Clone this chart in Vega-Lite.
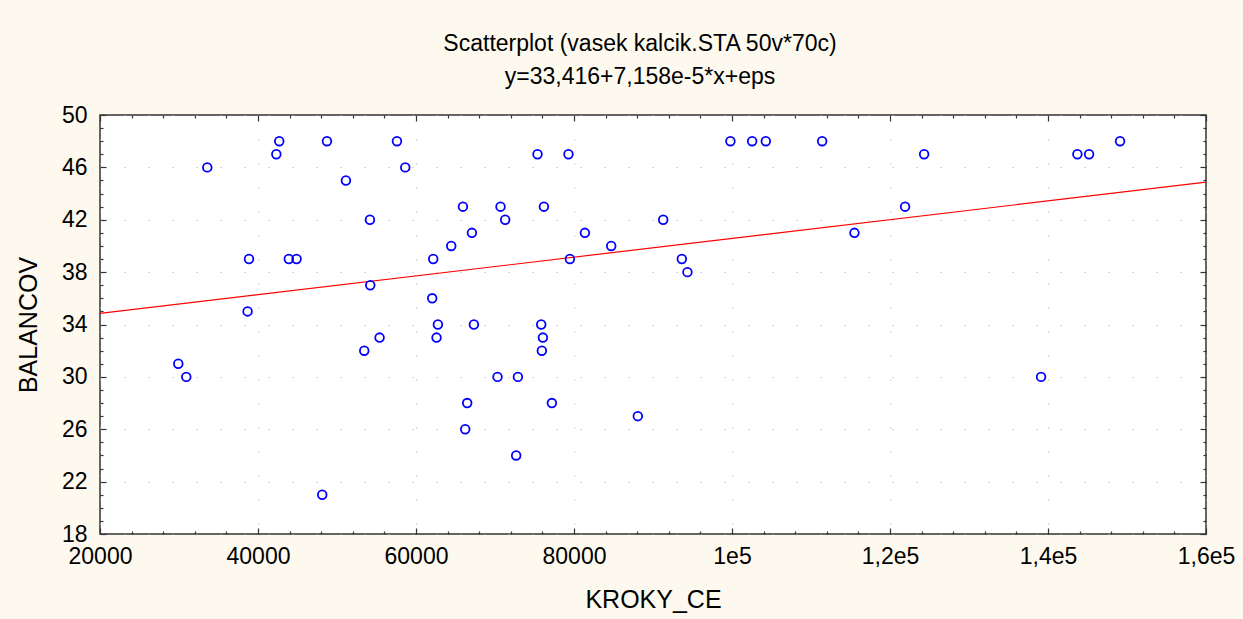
{
  "$schema": "https://vega.github.io/schema/vega-lite/v6.json",
  "width": 1106,
  "height": 419,
  "autosize": {"type": "none"},
  "padding": {"left": 100, "top": 115, "right": 37, "bottom": 85},
  "background": "#fef9ee",
  "view": {"fill": "white", "stroke": "#333333", "strokeWidth": 1.5},
  "config": {"font": "Liberation Sans"},
  "title": {
    "text": "Scatterplot (vasek kalcik.STA 50v*70c)",
    "subtitle": "y=33,416+7,158e-5*x+eps",
    "fontSize": 23,
    "fontWeight": "normal",
    "color": "black",
    "subtitleFontSize": 23,
    "subtitleColor": "black",
    "subtitlePadding": 10,
    "anchor": "middle",
    "offset": 15,
    "dx": -13
  },
  "datasets": {
    "points": [
      {"KROKY_CE": 42690, "BALANCOV": 48},
      {"KROKY_CE": 42320, "BALANCOV": 47},
      {"KROKY_CE": 33580, "BALANCOV": 46},
      {"KROKY_CE": 38860, "BALANCOV": 39},
      {"KROKY_CE": 43900, "BALANCOV": 39},
      {"KROKY_CE": 44880, "BALANCOV": 39},
      {"KROKY_CE": 38680, "BALANCOV": 35},
      {"KROKY_CE": 29910, "BALANCOV": 31},
      {"KROKY_CE": 30920, "BALANCOV": 30},
      {"KROKY_CE": 48730, "BALANCOV": 48},
      {"KROKY_CE": 57590, "BALANCOV": 48},
      {"KROKY_CE": 58640, "BALANCOV": 46},
      {"KROKY_CE": 51130, "BALANCOV": 45},
      {"KROKY_CE": 54170, "BALANCOV": 42},
      {"KROKY_CE": 65940, "BALANCOV": 43},
      {"KROKY_CE": 67080, "BALANCOV": 41},
      {"KROKY_CE": 64460, "BALANCOV": 40},
      {"KROKY_CE": 62180, "BALANCOV": 39},
      {"KROKY_CE": 54210, "BALANCOV": 37},
      {"KROKY_CE": 62050, "BALANCOV": 36},
      {"KROKY_CE": 62770, "BALANCOV": 34},
      {"KROKY_CE": 67330, "BALANCOV": 34},
      {"KROKY_CE": 55390, "BALANCOV": 33},
      {"KROKY_CE": 62600, "BALANCOV": 33},
      {"KROKY_CE": 53450, "BALANCOV": 32},
      {"KROKY_CE": 66480, "BALANCOV": 28},
      {"KROKY_CE": 66230, "BALANCOV": 26},
      {"KROKY_CE": 48130, "BALANCOV": 21},
      {"KROKY_CE": 75380, "BALANCOV": 47},
      {"KROKY_CE": 79300, "BALANCOV": 47},
      {"KROKY_CE": 70700, "BALANCOV": 43},
      {"KROKY_CE": 76190, "BALANCOV": 43},
      {"KROKY_CE": 71290, "BALANCOV": 42},
      {"KROKY_CE": 91290, "BALANCOV": 42},
      {"KROKY_CE": 81380, "BALANCOV": 41},
      {"KROKY_CE": 84710, "BALANCOV": 40},
      {"KROKY_CE": 79480, "BALANCOV": 39},
      {"KROKY_CE": 75850, "BALANCOV": 34},
      {"KROKY_CE": 76060, "BALANCOV": 33},
      {"KROKY_CE": 75930, "BALANCOV": 32},
      {"KROKY_CE": 70320, "BALANCOV": 30},
      {"KROKY_CE": 72900, "BALANCOV": 30},
      {"KROKY_CE": 77200, "BALANCOV": 28},
      {"KROKY_CE": 88080, "BALANCOV": 27},
      {"KROKY_CE": 72680, "BALANCOV": 24},
      {"KROKY_CE": 99800, "BALANCOV": 48},
      {"KROKY_CE": 102550, "BALANCOV": 48},
      {"KROKY_CE": 104280, "BALANCOV": 48},
      {"KROKY_CE": 111410, "BALANCOV": 48},
      {"KROKY_CE": 93650, "BALANCOV": 39},
      {"KROKY_CE": 94360, "BALANCOV": 38},
      {"KROKY_CE": 115500, "BALANCOV": 41},
      {"KROKY_CE": 124320, "BALANCOV": 47},
      {"KROKY_CE": 121910, "BALANCOV": 43},
      {"KROKY_CE": 139120, "BALANCOV": 30},
      {"KROKY_CE": 143720, "BALANCOV": 47},
      {"KROKY_CE": 145200, "BALANCOV": 47},
      {"KROKY_CE": 149120, "BALANCOV": 48}
    ],
    "fit": [
      {"KROKY_CE": 20000, "BALANCOV": 34.848},
      {"KROKY_CE": 160000, "BALANCOV": 44.869}
    ]
  },
  "layer": [
    {
      "data": {"name": "fit"},
      "mark": {"type": "line", "color": "#ff0000", "strokeWidth": 1.2},
      "encoding": {
        "x": {
          "field": "KROKY_CE", "type": "quantitative",
          "scale": {"domain": [20000, 160000], "nice": false, "zero": false},
          "axis": {
            "orient": "top", "labels": false, "title": null, "grid": false, "domain": false,
            "values": [20000,24000,28000,32000,36000,40000,44000,48000,52000,56000,60000,64000,68000,72000,76000,80000,84000,88000,92000,96000,100000,104000,108000,112000,116000,120000,124000,128000,132000,136000,140000,144000,148000,152000,156000,160000],
            "tickColor": "#333333", "tickWidth": 1.2,
            "tickSize": {"condition": {"test": "datum.value % 20000 === 0", "value": -6}, "value": -3}
          }
        },
        "y": {
          "field": "BALANCOV", "type": "quantitative",
          "scale": {"domain": [18, 50], "nice": false, "zero": false},
          "axis": {
            "orient": "right", "labels": false, "title": null, "grid": false, "domain": false,
            "values": [18,19,20,21,22,23,24,25,26,27,28,29,30,31,32,33,34,35,36,37,38,39,40,41,42,43,44,45,46,47,48,49,50],
            "tickColor": "#333333", "tickWidth": 1.2,
            "tickSize": {"condition": {"test": "datum.value % 4 === 2", "value": -6}, "value": -3}
          }
        }
      }
    },
    {
      "data": {"name": "points"},
      "mark": {"type": "point", "shape": "circle", "filled": false, "color": "#0000ff", "size": 75, "strokeWidth": 1.8, "opacity": 1},
      "encoding": {
        "x": {
          "field": "KROKY_CE", "type": "quantitative",
          "scale": {"domain": [20000, 160000], "nice": false, "zero": false},
          "axis": {
            "orient": "bottom", "domain": false,
            "values": [20000,24000,28000,32000,36000,40000,44000,48000,52000,56000,60000,64000,68000,72000,76000,80000,84000,88000,92000,96000,100000,104000,108000,112000,116000,120000,124000,128000,132000,136000,140000,144000,148000,152000,156000,160000],
            "labelExpr": "datum.value % 20000 === 0 ? (datum.value < 100000 ? format(datum.value, 'd') : replace(format(datum.value / 100000, '.1~f'), '.', ',') + 'e5') : ''",
            "labelFontSize": 23, "labelColor": "black", "labelPadding": 17, "labelFlush": false, "labelOverlap": false, "labelBound": false,
            "tickColor": "#333333", "tickWidth": 1.2,
            "tickSize": {"condition": {"test": "datum.value % 20000 === 0", "value": -6}, "value": -3},
            "grid": true, "gridColor": "#b0b0b0", "gridDash": [1, 23], "gridWidth": 1,
            "gridOpacity": {"condition": {"test": "datum.value % 20000 === 0", "value": 1}, "value": 0},
            "title": "KROKY_CE", "titleFontSize": 25, "titleFontWeight": "normal", "titleColor": "black", "titlePadding": 16
          }
        },
        "y": {
          "field": "BALANCOV", "type": "quantitative",
          "scale": {"domain": [18, 50], "nice": false, "zero": false},
          "axis": {
            "orient": "left", "domain": false,
            "values": [18,19,20,21,22,23,24,25,26,27,28,29,30,31,32,33,34,35,36,37,38,39,40,41,42,43,44,45,46,47,48,49,50],
            "labelExpr": "datum.value % 4 === 2 ? datum.label : ''",
            "labelFontSize": 23, "labelColor": "black", "labelPadding": 19, "labelFlush": false, "labelOverlap": false, "labelBound": false,
            "tickColor": "#333333", "tickWidth": 1.2,
            "tickSize": {"condition": {"test": "datum.value % 4 === 2", "value": -6}, "value": -3},
            "grid": true, "gridColor": "#b0b0b0", "gridDash": [1, 23], "gridWidth": 1,
            "gridOpacity": {"condition": {"test": "datum.value % 4 === 2", "value": 1}, "value": 0},
            "title": "BALANCOV", "titleFontSize": 25, "titleFontWeight": "normal", "titleColor": "black", "titlePadding": 20
          }
        }
      }
    }
  ],
  "resolve": {"axis": {"x": "independent", "y": "independent"}}
}
